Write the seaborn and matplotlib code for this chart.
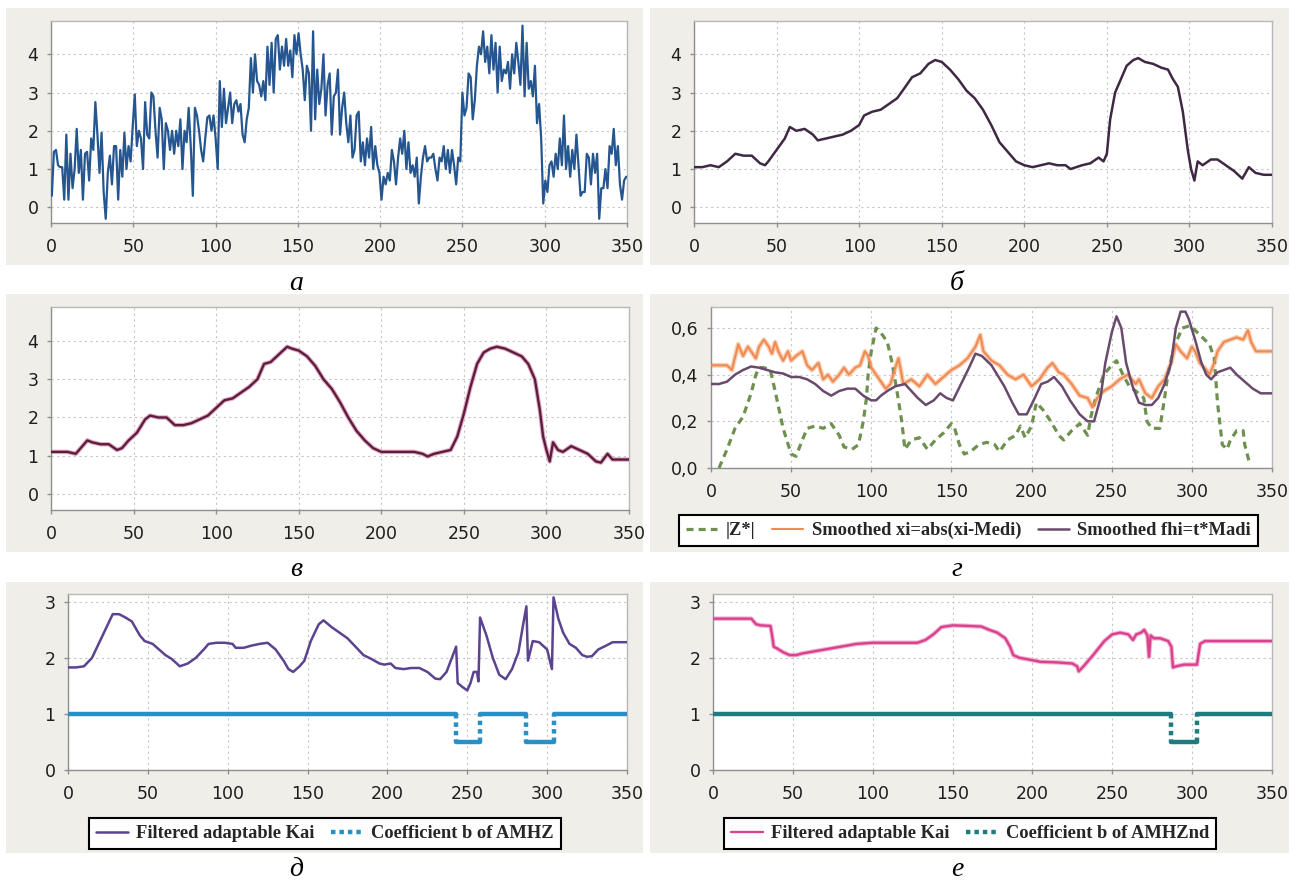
import numpy as np
import pandas as pd
import matplotlib
matplotlib.use("Agg")
import matplotlib.pyplot as plt
from matplotlib.patches import Rectangle
import seaborn as sns

sns.set_style("white")
plt.rcParams['font.family'] = ['DejaVu Sans']

# ---------------- data ----------------
# (а) raw noisy signal, sampled uniformly over 0..350
a_val = [
    0.3, 1.45, 1.5, 1.1, 1.05, 1.05,
    0.2, 1.9, 0.2, 1.4, 0.5, 1.0, 2.05, 0.9, 1.5, 0.2, 1.4, 1.45, 0.7, 1.8, 1.5, 2.75,
    1.9, 0.9, 1.95, 0.4, -0.3, 0.9, 1.35, 0.6, 1.6, 1.6,
    0.2, 1.5, 0.8, 1.95, 1.0, 1.6, 1.2, 2.1, 2.95, 1.6,
    2.0, 1.8, 1.0, 2.75, 1.9, 1.8, 3.0, 2.9, 2.0, 1.3,
    2.6, 2.3, 1.0, 2.2, 2.0, 1.5, 2.0, 1.4, 2.0, 1.6,
    2.3, 1.0, 2.0, 1.7, 2.6, 1.6, 0.3, 2.6, 2.4, 2.0,
    1.5, 1.2, 1.8, 2.35, 2.4, 2.0, 2.4, 1.8, 1.0, 3.3,
    2.1, 3.1, 2.2, 2.6, 3.0, 2.2, 2.7, 2.8, 2.5, 2.7,
    1.9, 1.7, 2.3, 2.6, 3.9, 3.0, 4.0, 3.3, 3.2, 2.9,
    3.3, 2.8, 4.2, 3.2, 4.3, 3.0, 4.4, 4.5, 3.6, 4.2,
    3.7, 4.4, 3.7, 4.1, 3.4, 4.5, 4.0, 4.55, 4.0, 3.6,
    2.8, 3.7, 3.5, 2.0, 4.6, 2.3, 3.6, 2.7, 3.1, 4.0,
    2.4, 3.2, 3.5, 1.9, 2.9, 3.0, 3.6, 1.9, 2.6, 3.0,
    2.2, 1.7, 2.4, 1.3, 1.5, 2.4, 2.5, 1.2, 1.7, 1.1,
    1.8, 1.3, 2.1, 1.0, 1.6, 1.1, 0.9, 0.2, 0.8, 0.6,
    0.9, 0.7, 1.5, 1.2, 0.6, 1.3, 1.8, 1.4, 2.0, 1.0,
    1.7, 0.9, 1.1, 0.8, 1.3, 0.1, 0.8, 1.3, 1.6, 1.2,
    1.3, 1.3, 1.4, 1.0, 0.7, 1.3, 1.2, 1.6, 1.0, 1.5,
    0.9, 1.5, 1.1, 0.6, 1.3, 1.2, 3.0, 2.4, 2.6, 3.5,
    3.4, 2.3, 2.8, 3.7, 4.2, 4.0, 4.6, 3.8, 4.2, 3.5,
    4.5, 3.6, 4.3, 3.0, 4.2, 3.3, 3.6, 3.5, 3.8, 3.1,
    4.0, 3.5, 4.3, 3.8, 3.2, 4.75, 2.9, 4.3, 3.1, 3.3,
    2.9, 3.7, 2.2, 2.7, 1.8, 0.1, 0.7, 0.4, 1.1, 1.2,
    0.8, 1.4, 1.0, 1.8, 1.1, 2.4, 1.0, 1.6, 0.8, 1.5,
    1.0, 1.9, 1.1, 0.3, 0.4, 0.4, 1.4, 1.3, 0.6, 1.4,
    0.9, 1.4, -0.3, 0.5, 0.5, 1.0, 0.5, 1.6, 1.4, 2.05,
    1.1, 1.6, 0.6, 0.2, 0.7, 0.8,
]
a_x = np.linspace(0.5, 349.5, len(a_val))

# (б) median-smoothed signal
b_x = [0, 5, 10, 15, 20, 25, 30, 35, 40, 43, 45, 50, 55, 58, 62, 67, 72, 75, 80, 85, 90, 95,
       100, 103, 108, 113, 118, 123, 128, 132, 137, 142, 146, 150, 155, 160, 165, 170, 175,
       180, 185, 190, 195, 200, 205, 210, 215, 220, 225, 228, 235, 240, 245, 248, 250, 252,
       255, 258, 262, 266, 269, 273, 278, 283, 287, 290, 293, 296, 299, 301, 303, 305, 308,
       313, 317, 322, 327, 332, 336, 340, 345, 350]
b_y = [1.05, 1.05, 1.1, 1.05, 1.2, 1.4, 1.35, 1.35, 1.15, 1.1, 1.2, 1.5, 1.8, 2.1, 2.0, 2.05,
       1.9, 1.75, 1.8, 1.85, 1.9, 2.0, 2.15, 2.4, 2.5, 2.55, 2.7, 2.85, 3.15, 3.4, 3.5, 3.75,
       3.85, 3.8, 3.6, 3.35, 3.05, 2.85, 2.55, 2.15, 1.7, 1.45, 1.2, 1.1, 1.05, 1.1, 1.15, 1.1,
       1.1, 1.0, 1.1, 1.15, 1.3, 1.2, 1.4, 2.3, 3.0, 3.3, 3.7, 3.85, 3.9, 3.8, 3.75, 3.65, 3.6,
       3.35, 3.15, 2.5, 1.5, 1.0, 0.7, 1.2, 1.1, 1.25, 1.25, 1.1, 0.95, 0.75, 1.05, 0.9, 0.85,
       0.85]

# (в) adaptive filter output
v_x = [0, 5, 10, 15, 18, 22, 25, 30, 35, 40, 43, 47, 52, 57, 60, 65, 70, 75, 80, 85, 90, 95,
       100, 105, 110, 115, 120, 125, 129, 133, 138, 143, 146, 150, 155, 160, 165, 170, 175,
       180, 185, 190, 195, 200, 205, 210, 215, 220, 225, 228, 232, 237, 242, 246, 250, 254,
       258, 262, 266, 270, 275, 280, 285, 289, 293, 296, 298, 300, 302, 304, 307, 310, 315,
       320, 325, 330, 333, 337, 340, 345, 350]
v_y = [1.1, 1.1, 1.1, 1.05, 1.2, 1.4, 1.35, 1.3, 1.3, 1.15, 1.2, 1.4, 1.6, 1.95, 2.05, 2.0,
       2.0, 1.8, 1.8, 1.85, 1.95, 2.05, 2.25, 2.45, 2.5, 2.65, 2.8, 3.0, 3.4, 3.45, 3.65, 3.85,
       3.8, 3.75, 3.6, 3.35, 3.0, 2.75, 2.4, 2.0, 1.65, 1.4, 1.2, 1.1, 1.1, 1.1, 1.1, 1.1, 1.05,
       0.98, 1.05, 1.1, 1.15, 1.5, 2.1, 2.8, 3.4, 3.7, 3.8, 3.85, 3.8, 3.7, 3.6, 3.4, 3.0, 2.2,
       1.5, 1.15, 0.85, 1.35, 1.15, 1.1, 1.25, 1.15, 1.05, 0.85, 0.82, 1.05, 0.9, 0.9, 0.9]

# (г) |Z*|
z_x = [5, 10, 15, 20, 25, 28, 30, 33, 37, 40, 45, 50, 53, 57, 60, 65, 70, 75, 80, 83, 88, 92,
       95, 97, 98, 100, 103, 107, 110, 113, 116, 119, 121, 125, 130, 135, 140, 145, 150, 152,
       155, 158, 162, 167, 172, 177, 180, 185, 190, 193, 196, 200, 203, 207, 212, 217, 220,
       225, 230, 235, 237, 240, 245, 250, 253, 257, 261, 265, 270, 272, 275, 280, 283, 285,
       289, 294, 299, 305, 311, 314, 316, 319, 322, 324, 328, 332, 333, 336]
z_y = [0.0, 0.08, 0.17, 0.22, 0.32, 0.4, 0.43, 0.43, 0.42, 0.33, 0.17, 0.06, 0.05, 0.12, 0.17,
       0.18, 0.17, 0.19, 0.14, 0.09, 0.08, 0.1, 0.2, 0.3, 0.4, 0.5, 0.6, 0.57, 0.54, 0.45, 0.33,
       0.2, 0.08, 0.12, 0.13, 0.08, 0.12, 0.15, 0.19, 0.17, 0.1, 0.06, 0.07, 0.1, 0.11, 0.1,
       0.07, 0.12, 0.14, 0.18, 0.13, 0.18, 0.28, 0.25, 0.2, 0.14, 0.12, 0.16, 0.19, 0.14, 0.22,
       0.3, 0.4, 0.44, 0.46, 0.4, 0.35, 0.33, 0.3, 0.2, 0.17, 0.17, 0.3, 0.4, 0.52, 0.6, 0.61,
       0.57, 0.53, 0.47, 0.28, 0.1, 0.08, 0.12, 0.16, 0.16, 0.1, 0.02]

# (г) smoothed ri = abs(xi - Medi)
r_x = [0, 5, 10, 13, 17, 20, 23, 25, 28, 30, 33, 36, 38, 40, 42, 45, 48, 50, 53, 57, 60, 63,
       67, 70, 73, 76, 80, 83, 86, 90, 93, 96, 98, 100, 103, 106, 109, 112, 115, 117, 120, 125,
       130, 135, 140, 145, 150, 155, 160, 165, 168, 170, 175, 180, 185, 190, 195, 200, 205,
       210, 213, 217, 220, 225, 230, 235, 238, 241, 245, 250, 255, 260, 265, 267, 271, 275,
       279, 283, 287, 290, 293, 297, 300, 302, 305, 309, 311, 314, 316, 320, 324, 328, 332,
       335, 337, 340, 350]
r_y = [0.44, 0.44, 0.44, 0.42, 0.53, 0.48, 0.52, 0.5, 0.47, 0.52, 0.55, 0.52, 0.49, 0.54, 0.5,
       0.46, 0.5, 0.46, 0.48, 0.5, 0.44, 0.42, 0.45, 0.38, 0.4, 0.37, 0.4, 0.43, 0.4, 0.43,
       0.44, 0.5, 0.48, 0.43, 0.4, 0.37, 0.34, 0.36, 0.43, 0.47, 0.36, 0.38, 0.35, 0.4, 0.36,
       0.39, 0.42, 0.44, 0.47, 0.52, 0.57, 0.5, 0.46, 0.44, 0.4, 0.38, 0.4, 0.35, 0.38, 0.43,
       0.45, 0.41, 0.4, 0.36, 0.31, 0.3, 0.26, 0.3, 0.33, 0.35, 0.38, 0.4, 0.36, 0.38, 0.32,
       0.3, 0.35, 0.38, 0.45, 0.53, 0.5, 0.47, 0.52, 0.5, 0.45, 0.42, 0.4, 0.45, 0.5, 0.54,
       0.55, 0.56, 0.55, 0.59, 0.54, 0.5, 0.5]

# (г) smoothed threshold fhi = t * Madi
f_x = [0, 5, 10, 15, 20, 25, 30, 35, 40, 45, 50, 55, 60, 65, 70, 75, 80, 85, 90, 95, 100, 103,
       106, 110, 115, 121, 129, 134, 139, 143, 147, 151, 156, 161, 165, 169, 175, 183, 188,
       192, 197, 202, 206, 210, 214, 219, 224, 230, 235, 239, 243, 246, 250, 253, 256, 259,
       263, 267, 271, 275, 279, 283, 287, 290, 293, 296, 298, 302, 306, 309, 312, 316, 320,
       324, 328, 333, 338, 343, 350]
f_y = [0.36, 0.36, 0.37, 0.4, 0.42, 0.435, 0.43, 0.42, 0.41, 0.405, 0.39, 0.39, 0.38, 0.36,
       0.33, 0.31, 0.33, 0.34, 0.34, 0.31, 0.29, 0.29, 0.31, 0.33, 0.35, 0.36, 0.3, 0.27, 0.29,
       0.32, 0.3, 0.29, 0.36, 0.43, 0.49, 0.48, 0.44, 0.35, 0.28, 0.23, 0.23, 0.3, 0.36, 0.37,
       0.39, 0.35, 0.29, 0.23, 0.2, 0.2, 0.3, 0.45, 0.58, 0.65, 0.6, 0.45, 0.35, 0.28, 0.27,
       0.27, 0.3, 0.36, 0.45, 0.6, 0.67, 0.67, 0.64, 0.55, 0.45, 0.4, 0.38, 0.41, 0.42, 0.43,
       0.4, 0.37, 0.34, 0.32, 0.32]

# (д) filtered adaptable Kai and coefficient b of AMHZ
k1_x = [0, 5, 10, 15, 20, 25, 28, 32, 36, 40, 45, 48, 53, 57, 61, 65, 70, 75, 80, 85, 88, 93,
        98, 103, 105, 110, 115, 120, 125, 130, 135, 138, 141, 145, 148, 152, 157, 160, 165,
        170, 175, 180, 185, 190, 195, 198, 202, 205, 210, 215, 220, 225, 230, 233, 237, 241,
        243, 244, 247, 250, 252, 254, 256, 257, 258, 262, 266, 270, 274, 278, 282, 285, 287,
        288, 291, 295, 300, 303, 304, 307, 310, 314, 318, 322, 325, 328, 332, 337, 341, 345,
        350]
k1_y = [1.83, 1.83, 1.85, 2.0, 2.3, 2.6, 2.78, 2.78, 2.72, 2.65, 2.4, 2.3, 2.25, 2.15, 2.05,
        1.98, 1.85, 1.9, 2.0, 2.15, 2.25, 2.27, 2.27, 2.25, 2.18, 2.18, 2.22, 2.25, 2.27, 2.15,
        1.95, 1.8, 1.75, 1.85, 1.95, 2.3, 2.6, 2.67, 2.55, 2.45, 2.35, 2.2, 2.05, 1.98, 1.9,
        1.88, 1.9, 1.82, 1.8, 1.82, 1.82, 1.75, 1.63, 1.62, 1.75, 2.05, 2.2, 1.55, 1.48, 1.42,
        1.55, 1.75, 1.75, 1.58, 2.72, 2.4, 2.0, 1.7, 1.62, 1.8, 2.1, 2.6, 2.92, 1.95, 2.3, 2.28,
        2.15, 1.8, 3.08, 2.7, 2.45, 2.25, 2.18, 2.05, 2.02, 2.03, 2.15, 2.22, 2.28, 2.28, 2.28]
s1_x = [0, 243, 243, 258, 258, 287, 287, 304, 304, 350]
s1_y = [1, 1, 0.5, 0.5, 1, 1, 0.5, 0.5, 1, 1]

# (е) filtered adaptable Kai and coefficient b of AMHZnd
k2_x = [0, 10, 20, 24, 27, 30, 36, 37, 38, 40, 44, 48, 52, 56, 60, 70, 80, 90, 100, 110, 120,
        128, 133, 138, 143, 150, 160, 168, 173, 178, 183, 186, 188, 192, 198, 205, 215, 225,
        228, 229, 232, 238, 245, 250, 255, 260, 263, 265, 268, 270, 272, 273, 274, 276, 280,
        285, 287, 288, 290, 295, 300, 303, 305, 308, 320, 335, 350]
k2_y = [2.7, 2.7, 2.7, 2.7, 2.6, 2.58, 2.57, 2.4, 2.2, 2.17, 2.1, 2.05, 2.05, 2.08, 2.1, 2.15,
        2.2, 2.25, 2.27, 2.27, 2.27, 2.27, 2.32, 2.42, 2.55, 2.58, 2.57, 2.56, 2.5, 2.45, 2.35,
        2.2, 2.05, 2.0, 1.97, 1.93, 1.92, 1.9, 1.85, 1.76, 1.85, 2.05, 2.3, 2.42, 2.45, 2.42,
        2.32, 2.42, 2.45, 2.5, 2.4, 2.02, 2.4, 2.35, 2.35, 2.3, 2.2, 1.83, 1.85, 1.88, 1.88,
        1.88, 2.25, 2.3, 2.3, 2.3, 2.3]
s2_x = [0, 287, 287, 303, 303, 350]
s2_y = [1, 1, 0.5, 0.5, 1, 1]

captions = ["а", "б", "в", "г", "д", "е"]
x_ticks = [0, 50, 100, 150, 200, 250, 300, 350]

# ---------------- layout (pixel geometry) ----------------
W, H = 1297, 883
fig = plt.figure(figsize=(W / 100, H / 100), dpi=100)
fig.patch.set_facecolor("white")

BEIGE = "#efeee9"
frames = [(6, 8, 643, 265), (650, 8, 1289, 265),
          (6, 294, 643, 552), (650, 294, 1289, 552),
          (6, 582, 643, 853), (650, 582, 1289, 853)]
for l, t, r, b in frames:
    fig.patches.append(Rectangle((l / W, 1 - b / H), (r - l) / W, (b - t) / H,
                                 transform=fig.transFigure, facecolor=BEIGE,
                                 edgecolor="none", zorder=-5))


def add_ax(l, t, r, b):
    return fig.add_axes([l / W, 1 - b / H, (r - l) / W, (b - t) / H])


def style(ax, ylim, yticks, ylabels=None):
    ax.set_facecolor("white")
    ax.set_xlim(0, 350)
    ax.set_ylim(*ylim)
    ax.set_xticks(x_ticks)
    ax.set_yticks(yticks)
    if ylabels is not None:
        ax.set_yticklabels(ylabels)
    ax.grid(True, color="#c6c6c6", linestyle=(0, (2, 3)), linewidth=0.8)
    ax.set_axisbelow(True)
    for name, s in ax.spines.items():
        s.set_visible(True)
        s.set_linewidth(1.0)
        s.set_color("#8f8f8f" if name in ("left", "bottom") else "#b8b8b8")
    ax.tick_params(axis="both", labelsize=12.5, labelcolor="#1e1e1e", color="#8f8f8f",
                   length=3, width=1, direction="out", bottom=True, left=True)
    ax.tick_params(axis="x", pad=8)
    ax.tick_params(axis="y", pad=6)
    ax.set_xlabel("")
    ax.set_ylabel("")


def line(ax, x, y, color, lw, ls="-", z=3):
    sns.lineplot(x=x, y=y, ax=ax, color=color, linewidth=lw, linestyle=ls,
                 sort=False, estimator=None, legend=False, zorder=z)
    return ax.get_lines()[-1]


def step_line(ax, x, y, color, lw):
    # levels (point pairs 0-1, 2-3, ...) solid; the jumps between them dashed
    for k in range(0, len(x) - 1, 2):
        line(ax, x[k:k + 2], y[k:k + 2], color, lw)
    handle = None
    for k in range(1, len(x) - 1, 2):
        h = line(ax, x[k:k + 2], y[k:k + 2], color, lw, ls=(0, (1.0, 0.9)))
        handle = handle or h
    return handle


LEG_FONT = {"family": "Liberation Serif", "weight": "bold", "size": 13.3}


def legend(ax, handles, labels, cx, cy):
    lg = ax.legend(handles, labels, loc="center", bbox_to_anchor=(cx / W, 1 - cy / H),
                   bbox_transform=fig.transFigure, ncol=len(handles), prop=LEG_FONT,
                   frameon=True, fancybox=False, framealpha=1, edgecolor="black",
                   handlelength=1.7, handletextpad=0.45, columnspacing=0.9,
                   borderpad=0.38)
    lg.get_frame().set_linewidth(1.5)
    return lg


# (а)
ax = add_ax(51, 21, 627, 223)
line(ax, a_x, a_val, "#25568f", 1.6)
style(ax, (-0.41, 4.87), [0, 1, 2, 3, 4])

# (б)
ax = add_ax(694, 21, 1272, 223)
line(ax, b_x, b_y, "#3e2842", 1.8)
style(ax, (-0.41, 4.87), [0, 1, 2, 3, 4])

# (в)
ax = add_ax(51, 307, 629, 510)
line(ax, v_x, v_y, "#e7a6c2", 3.2, z=2)
line(ax, v_x, v_y, "#5a1f3f", 1.7)
style(ax, (-0.42, 4.89), [0, 1, 2, 3, 4])

# (г)
ax = add_ax(711, 307, 1272, 468)
hz = line(ax, z_x, z_y, "#6e9150", 2.3, ls=(0, (2.2, 1.6)))
line(ax, r_x, r_y, "#f9cdb0", 3.4, z=2)
hr = line(ax, r_x, r_y, "#f08a52", 1.5)
hf = line(ax, f_x, f_y, "#6a4a6c", 1.8)
style(ax, (0, 0.69), [0, 0.2, 0.4, 0.6], ["0,0", "0,2", "0,4", "0,6"])
legend(ax, [hz, hr, hf], ["|Z*|", "Smoothed xi=abs(xi-Medi)", "Smoothed fhi=t*Madi"],
       968.5, 530.5)

# (д)
ax = add_ax(68, 594, 627, 770)
hk = line(ax, k1_x, k1_y, "#5b4390", 1.8)
hs = step_line(ax, s1_x, s1_y, "#2a8fc4", 3.2)
style(ax, (0, 3.14), [0, 1, 2, 3])
legend(ax, [hk, hs], ["Filtered adaptable Kai", "Coefficient b of AMHZ"], 325, 833.5)

# (е)
ax = add_ax(713, 594, 1272, 770)
line(ax, k2_x, k2_y, "#f2b0cf", 3.2, z=2)
hk2 = line(ax, k2_x, k2_y, "#d8428e", 1.7)
hs2 = step_line(ax, s2_x, s2_y, "#1f7b7e", 3.2)
style(ax, (0, 3.14), [0, 1, 2, 3])
legend(ax, [hk2, hs2], ["Filtered adaptable Kai", "Coefficient b of AMHZnd"], 970, 833.5)

# panel captions
cap_pos = [(296, 283), (957, 283), (296, 570), (957, 570), (296, 870), (957, 870)]
for txt, (cx, cy) in zip(captions, cap_pos):
    fig.text(cx / W, 1 - cy / H, txt, ha="center", va="center", fontsize=20,
             fontstyle="italic", family="Liberation Serif", color="black")

fig.savefig("out.png", dpi=100, facecolor="white")
